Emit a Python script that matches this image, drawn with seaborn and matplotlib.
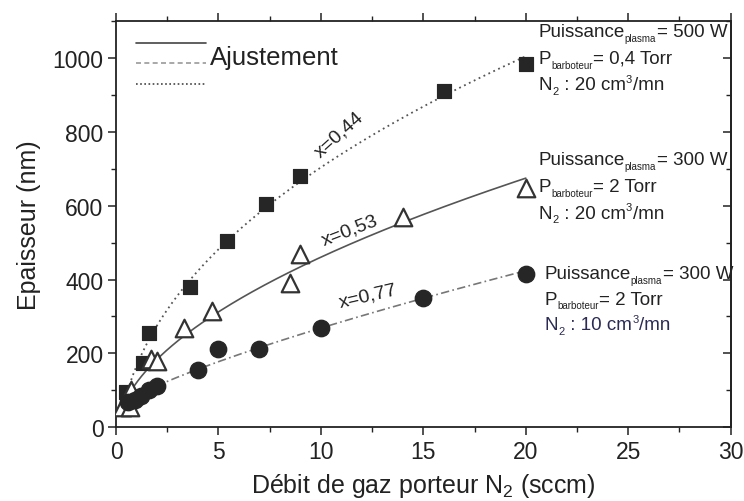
import numpy as np
import pandas as pd
import matplotlib
matplotlib.use("Agg")
import matplotlib.pyplot as plt
import seaborn as sns
from matplotlib.lines import Line2D

# ---- data ----
sq_x = [0.5, 1.3, 1.6, 3.6, 5.4, 7.3, 9.0, 16.0, 20.0]
sq_y = [95, 175, 255, 380, 505, 605, 680, 910, 985]

tri_x = [0.3, 0.7, 0.75, 1.7, 2.0, 3.3, 4.7, 8.5, 9.0, 14.0, 20.0]
tri_y = [55, 55, 100, 185, 178, 270, 315, 390, 468, 570, 648]

cir_x = [0.6, 0.9, 1.2, 1.6, 2.0, 4.0, 5.0, 7.0, 10.0, 15.0, 20.0]
cir_y = [68, 75, 85, 100, 112, 155, 212, 212, 270, 350, 415]

exponents = [0.44, 0.53, 0.77]
exp_labels = ["x=0,44", "x=0,53", "x=0,77"]

x_ticks = [0, 5, 10, 15, 20, 25, 30]
y_ticks = [0, 200, 400, 600, 800, 1000]

sns.set_theme(style="ticks")
plt.rcParams['font.family'] = ['Liberation Sans', 'DejaVu Sans']
plt.rcParams['mathtext.fontset'] = 'custom'
plt.rcParams['mathtext.rm'] = 'Liberation Sans'
plt.rcParams['mathtext.it'] = 'Liberation Sans'

INK = "#222222"

fig = plt.figure(figsize=(7.44, 5.02), dpi=100)
ax = fig.add_axes([0.156, 0.147, 0.826, 0.809])


def fit_curve(xs, ys, b, x0, x1):
    """Least-squares fit y = a * x**b + c (the 'Ajustement' curves)."""
    xs = np.asarray(xs, float)
    A = np.column_stack([xs ** b, np.ones_like(xs)])
    (a, c), *_ = np.linalg.lstsq(A, np.asarray(ys, float), rcond=None)
    xx = np.linspace(x0, x1, 200)
    return pd.DataFrame({"x": xx, "y": a * xx ** b + c})


fit_sq = fit_curve(sq_x, sq_y, exponents[0], 0.5, 20)
fit_tri = fit_curve(tri_x, tri_y, exponents[1], 0.15, 20)
fit_cir = fit_curve(cir_x, cir_y, exponents[2], 0.5, 20)

sns.lineplot(data=fit_sq, x="x", y="y", ax=ax, color="#555555", lw=1.3,
             linestyle=(0, (1, 2)), estimator=None)
sns.lineplot(data=fit_tri, x="x", y="y", ax=ax, color="#555555", lw=1.2,
             linestyle="-", estimator=None)
sns.lineplot(data=fit_cir, x="x", y="y", ax=ax, color="#777777", lw=1.2,
             linestyle=(0, (5, 2, 1, 2)), estimator=None)

sns.scatterplot(x=sq_x, y=sq_y, ax=ax, marker="s", s=110, color="#262626",
                edgecolor="#262626", zorder=5)
sns.scatterplot(x=tri_x, y=tri_y, ax=ax, marker="^", s=160, facecolor="white",
                edgecolor="#333333", linewidth=1.6, zorder=5)
sns.scatterplot(x=cir_x, y=cir_y, ax=ax, marker="o", s=140, color="#262626",
                edgecolor="#262626", zorder=5)

ax.set_xlim(0, 30)
ax.set_ylim(0, 1100)
ax.set_xticks(x_ticks)
ax.set_yticks(y_ticks)
ax.set_xticks(np.arange(0, 31, 2.5), minor=True)
ax.set_yticks(np.arange(0, 1101, 100), minor=True)
ax.tick_params(axis="both", which="major", labelsize=16.5, length=6, width=1.1,
               direction="out", top=True, right=False, color=INK,
               labelcolor=INK, pad=3)
ax.tick_params(axis="both", which="minor", length=3.5, width=1.0,
               direction="out", top=True, right=False, color=INK)
for sp in ax.spines.values():
    sp.set_visible(True)
    sp.set_linewidth(1.3)
    sp.set_color(INK)

# right-hand ticks point inward, as in the reference
sec = ax.secondary_yaxis("right")
sec.set_yticks(y_ticks)
sec.set_yticks(np.arange(0, 1101, 100), minor=True)
sec.tick_params(which="major", direction="in", length=6, width=1.1,
                color=INK, labelright=False)
sec.tick_params(which="minor", direction="in", length=3.5, width=1.0,
                color=INK)
sec.spines["right"].set_linewidth(1.3)
sec.spines["right"].set_color(INK)

ax.set_xlabel(r"Débit de gaz porteur N$_2$ (sccm)", fontsize=18, color=INK,
              labelpad=6)
ax.set_ylabel("Epaisseur (nm)", fontsize=18, color=INK, labelpad=8)

# legend
handles = [Line2D([], [], color="#444444", lw=1.2, linestyle="-"),
           Line2D([], [], color="#999999", lw=1.2, linestyle=(0, (3, 2))),
           Line2D([], [], color="#444444", lw=1.2, linestyle=(0, (1, 1.5)))]
ax.legend(handles, ["", "", ""], loc="upper left", frameon=False,
          handlelength=4.6, bbox_to_anchor=(0.01, 0.995), labelspacing=0.45)
ax.text(4.6, 1003, "Ajustement", fontsize=18.5, va="center", color=INK)


# rich text: main text with small sub/superscripts placed piecewise
def rich(x, y, parts, color=INK):
    t = ax.text(x, y, parts[0][0], fontsize=parts[0][1], va="baseline",
                color=color)
    for txt, size, dy in parts[1:]:
        t = ax.annotate(txt, xy=(1, y), xycoords=(t, "data"),
                        xytext=(0.3, dy), textcoords="offset points",
                        fontsize=size, va="baseline", color=color)


fs = 13.5
ss = 7


def block(x, ys, p, pb, n2, col=INK):
    rich(x, ys[0], [("Puissance", fs, 0), ("plasma", ss, -3.5),
                    ("= " + p, fs, 0)])
    rich(x, ys[1], [("P", fs, 0), ("barboteur", ss, -3.5),
                    ("= " + pb, fs, 0)])
    rich(x, ys[2], [("N", fs, 0), ("2", ss + 1, -3.5), (" : " + n2 + " cm", fs, 0),
                    ("3", ss + 1, 5.5), ("/mn", fs, 0)], color=col)


block(20.6, [1060, 987, 915], "500 W", "0,4 Torr", "20")
block(20.6, [713, 640, 568], "300 W", "2 Torr", "20")
block(20.9, [405, 335, 265], "300 W", "2 Torr", "10", col="#2a2a55")

ax.text(10.9, 795, exp_labels[0], fontsize=14, rotation=42, ha="center",
        va="center", color=INK)
ax.text(11.4, 535, exp_labels[1], fontsize=14, rotation=21, ha="center",
        va="center", color=INK)
ax.text(12.3, 358, exp_labels[2], fontsize=14, rotation=13, ha="center",
        va="center", color=INK)

fig.savefig("out.png", dpi=100)
